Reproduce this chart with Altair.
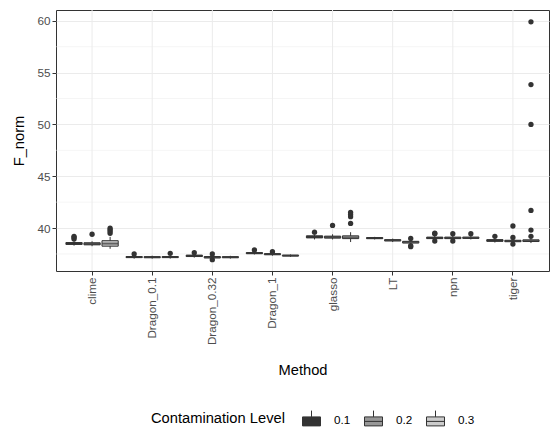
import altair as alt
import pandas as pd

methods = ["clime", "Dragon_0.1", "Dragon_0.32", "Dragon_1", "glasso", "LT", "npn", "tiger"]
levels = ["0.1", "0.2", "0.3"]
fill_colors = ["#333333", "#989898", "#CCCCCC"]

# box statistics, method-major order (clime 0.1, clime 0.2, clime 0.3, Dragon_0.1 0.1, ...)
lo = [38.30, 38.25, 38.00, 37.05, 37.05, 37.05, 37.15, 37.02, 37.05, 37.45, 37.33, 37.22,
      38.90, 38.90, 38.65, 38.90, 38.65, 38.35, 38.85, 38.85, 38.90, 38.60, 38.55, 38.55]
q1 = [38.42, 38.38, 38.25, 37.15, 37.14, 37.15, 37.25, 37.12, 37.14, 37.53, 37.43, 37.30,
      39.05, 39.03, 38.98, 38.98, 38.76, 38.55, 38.98, 38.98, 39.00, 38.72, 38.68, 38.70]
med = [38.50, 38.47, 38.50, 37.20, 37.19, 37.20, 37.32, 37.18, 37.19, 37.58, 37.48, 37.34,
       39.15, 39.12, 39.10, 39.03, 38.82, 38.65, 39.05, 39.05, 39.06, 38.80, 38.75, 38.78]
q3 = [38.60, 38.58, 38.78, 37.25, 37.24, 37.25, 37.38, 37.25, 37.24, 37.63, 37.53, 37.38,
      39.25, 39.22, 39.25, 39.08, 38.88, 38.72, 39.12, 39.12, 39.12, 38.88, 38.82, 38.86]
hi = [38.75, 38.72, 39.15, 37.35, 37.33, 37.35, 37.48, 37.35, 37.32, 37.72, 37.62, 37.45,
      39.40, 39.40, 39.60, 39.15, 38.98, 38.85, 39.25, 39.25, 39.22, 39.00, 38.95, 39.00]
outliers = [
    [38.95, 39.1, 39.2], [39.4], [39.5, 39.7, 39.85, 40.0],
    [37.5], [], [37.55],
    [37.62], [36.95, 37.5], [],
    [37.88], [37.72], [],
    [39.6], [40.25], [40.45, 41.1, 41.3, 41.5],
    [], [], [38.2, 38.3, 39.0],
    [38.75, 39.45, 39.5], [38.75, 39.45], [39.45],
    [39.2], [38.45, 39.1, 40.2], [39.2, 39.8, 41.7, 50.0, 53.85, 59.9],
]
y_ticks = [40, 45, 50, 55, 60]
minor_grid = [37.5, 42.5, 47.5, 52.5, 57.5]

rows, orows = [], []
k = 0
for m in methods:
    for lv in levels:
        rows.append(dict(method=m, level=lv, lo=lo[k], q1=q1[k], med=med[k], q3=q3[k], hi=hi[k]))
        for v in outliers[k]:
            orows.append(dict(method=m, level=lv, value=v))
        k += 1
df = pd.DataFrame(rows)
odf = pd.DataFrame(orows)
gdf = pd.DataFrame({"v": minor_grid})
mdf = pd.DataFrame({"method": methods})

FONT = "Liberation Sans"
xaxis = alt.Axis(bandPosition=0.5, labelAngle=-90, labelColor="#4D4D4D", labelFontSize=11.7,
                 tickColor="#333333", tickSize=4, labelPadding=2, domain=False, grid=False,
                 titleFontSize=14.7, titleColor="black",
                 titleFontWeight="normal", titlePadding=18)
yaxis = alt.Axis(values=y_ticks, labelColor="#4D4D4D", labelFontSize=11.7,
                 tickColor="#333333", tickSize=4, labelPadding=2, domain=False,
                 gridColor="#EBEBEB", gridWidth=1, titleFontSize=14.7, titleColor="black",
                 titleFontWeight="normal", titlePadding=10)
yscale = alt.Scale(domain=[35.855, 61.045], nice=False, zero=False)
xscale = alt.Scale(domain=methods, paddingInner=0, paddingOuter=0.1)

x = alt.X("method:N", sort=methods, scale=xscale, axis=xaxis, title="Method")
xo = alt.XOffset("level:N", sort=levels,
                 scale=alt.Scale(domain=levels, paddingInner=0.1, paddingOuter=0.2167))

def Y(field):
    return alt.Y(field, scale=yscale, axis=yaxis, title="F_norm")

minor = alt.Chart(gdf).mark_rule(color="#EBEBEB", strokeWidth=0.5).encode(y=Y("v:Q"))
vgrid = alt.Chart(mdf).mark_rule(color="#EBEBEB", strokeWidth=1).encode(x=x)
whisk = alt.Chart(df).mark_rule(color="#333333", strokeWidth=1).encode(
    x=x, xOffset=xo, y=Y("lo:Q"), y2="hi:Q")
box = alt.Chart(df).mark_bar(stroke="#333333", strokeWidth=1).encode(
    x=x, xOffset=xo, y=Y("q1:Q"), y2="q3:Q",
    fill=alt.Fill("level:N", sort=levels, scale=alt.Scale(domain=levels, range=fill_colors),
                  legend=alt.Legend(title="Contamination Level", orient="none", legendX=95,
                                    legendY=400, direction="horizontal", titleOrient="left",
                                    symbolType="M-1,-0.3H1V0.7H-1Z M0,-0.3V-1 M-1,0.2H1",
                                    symbolSize=324, symbolStrokeColor="#333333",
                                    symbolStrokeWidth=1, labelFontSize=11.7, labelColor="black",
                                    titleFontSize=14.7, titleFontWeight="normal",
                                    titleColor="black", titlePadding=17, columnPadding=11,
                                    labelOffset=13)))
medl = alt.Chart(df).mark_tick(color="#333333", thickness=2, size=16).encode(
    x=x, xOffset=xo, y=Y("med:Q"))
pts = alt.Chart(odf).mark_circle(color="#333333", size=28, opacity=1).encode(
    x=x, xOffset=xo, y=Y("value:Q"))

chart = alt.layer(minor, vgrid, whisk, box, medl, pts).properties(
    width=493, height=261,
    padding={"left": 3, "top": 1, "right": 1, "bottom": 2},
).configure(font=FONT).configure_view(stroke="#333333", strokeWidth=1)

chart.save("out.html", embed_options={"renderer": "svg", "actions": False})
